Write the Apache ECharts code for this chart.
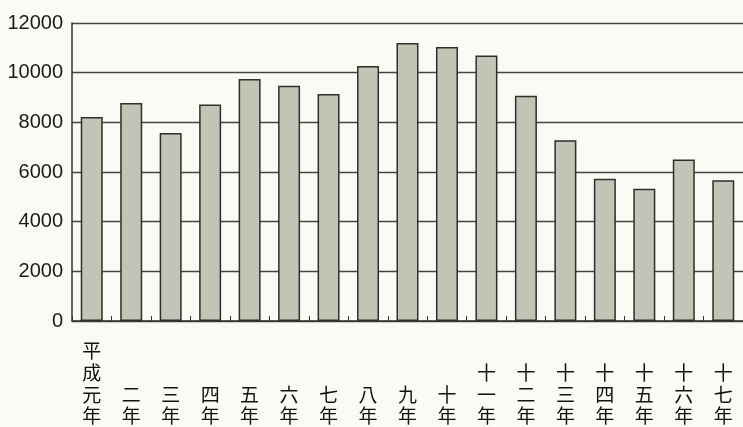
<!DOCTYPE html>
<html>
<head>
<meta charset="utf-8">
<script src="https://cdn.jsdelivr.net/npm/echarts@6/dist/echarts.min.js"></script>
<style>
html,body{margin:0;padding:0;background:#fbfbf6;}
#c{width:743px;height:427px;}
</style>
</head>
<body>
<div id="c"></div>
<script>
var categories = ['平成元年','二年','三年','四年','五年','六年','七年','八年','九年','十年','十一年','十二年','十三年','十四年','十五年','十六年','十七年'];
var values = [8210, 8780, 7570, 8720, 9740, 9470, 9140, 10270, 11190, 11030, 10690, 9070, 7280, 5730, 5330, 6500, 5670];
var yTicks = [0, 2000, 4000, 6000, 8000, 10000, 12000];

var chart = echarts.init(document.getElementById('c'));
chart.setOption({
  backgroundColor: '#fbfbf6',
  animation: false,
  grid: {left: 72, right: -5, top: 23, bottom: 105},
  xAxis: {
    type: 'category',
    data: categories,
    axisLine: {show: true, lineStyle: {color: '#33332f', width: 1.5}},
    axisTick: {show: true, inside: true, length: 5, lineStyle: {color: '#33332f', width: 1}},
    axisLabel: {
      interval: 0,
      color: '#111',
      fontFamily: 'Noto Sans CJK JP',
      fontSize: 19,
      lineHeight: 21.7,
      verticalAlign: 'bottom',
      margin: 106,
      formatter: function (v) { return v.split('').join('\n'); }
    }
  },
  yAxis: {
    type: 'value',
    min: yTicks[0],
    max: yTicks[yTicks.length - 1],
    interval: 2000,
    axisLine: {show: true, lineStyle: {color: '#33332f', width: 1.5}},
    axisTick: {show: false},
    splitLine: {show: true, lineStyle: {color: '#45453f', width: 1.3}},
    axisLabel: {
      color: '#1a1a1a',
      fontFamily: 'Liberation Sans',
      fontSize: 20,
      margin: 9,
      formatter: function (v) { return String(v); }
    }
  },
  series: [{
    type: 'bar',
    data: values,
    barWidth: 22,
    itemStyle: {color: '#c0c5b5', borderColor: '#2e2e2a', borderWidth: 1.5}
  }]
});
</script>
</body>
</html>
